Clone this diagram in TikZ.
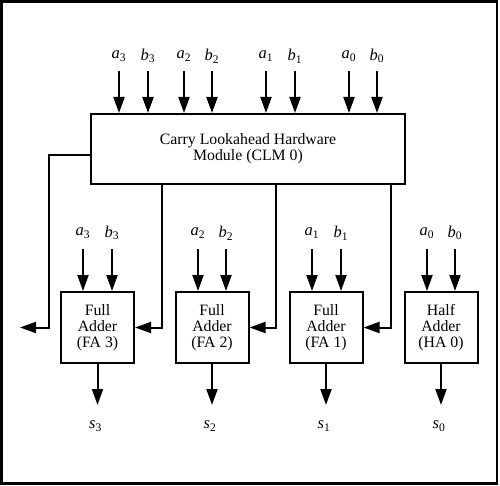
\documentclass[tikz,border=0pt]{standalone}
\usepackage{fontspec}
\setmainfont{Liberation Serif}
\usetikzlibrary{arrows.meta}
\newcommand{\lbl}[2]{\textit{#1}\textsubscript{#2}}
\begin{document}
\begin{tikzpicture}[x=1pt,y=-1pt,
  every node/.style={font=\fontsize{15.8}{15.7}\selectfont},
  blk/.style={draw,line width=2pt,inner sep=0pt,align=center},
  addbox/.style={blk,minimum width=73pt,minimum height=71pt},
  arr/.style={line width=2pt,-{Triangle[length=16pt,width=11pt]}},
  lab/.style={inner sep=0pt,font=\fontsize{16.5}{16.5}\selectfont}]
\useasboundingbox (0,0) rectangle (500,486);
\draw[line width=2.2pt] (1.5,1.5) rectangle (497,483.5);
% CLM
\node[blk,minimum width=314pt,minimum height=70pt] (clm) at (248,149)
  {Carry Lookahead Hardware\\Module (CLM 0)};
% adders
\node[addbox] (fa3) at (97.5,327.5) {Full\\Adder\\(FA 3)};
\node[addbox] (fa2) at (212,327.5) {Full\\Adder\\(FA 2)};
\node[addbox] (fa1) at (326,327.5) {Full\\Adder\\(FA 1)};
\node[addbox] (ha0) at (441,327.5) {Half\\Adder\\(HA 0)};
% top inputs
\foreach \n/\l/\s/\x in {ta3/a/3/119, tb3/b/3/148, ta2/a/2/184, tb2/b/2/212,
                        ta1/a/1/266, tb1/b/1/295, ta0/a/0/349, tb0/b/0/377}{
  \node[lab] (\n) at (\x,56) {\lbl{\l}{\s}};
  \coordinate (\n s) at (\x,71);
  \draw[arr] (\n s) -- (\n s |- clm.north);
}
% lower inputs
\foreach \n/\l/\s/\x/\b in {la3/a/3/83/fa3, lb3/b/3/112/fa3, la2/a/2/198/fa2, lb2/b/2/226/fa2,
                        la1/a/1/312/fa1, lb1/b/1/341/fa1, la0/a/0/427/ha0, lb0/b/0/455/ha0}{
  \node[lab] (\n) at (\x,233) {\lbl{\l}{\s}};
  \coordinate (\n s) at (\x,249);
  \draw[arr] (\n s) -- (\n s |- \b.north);
}
% outputs
\foreach \b/\s/\x in {fa3/3/97.5, fa2/2/212, fa1/1/326, ha0/0/441}{
  \coordinate (o\s) at (\x,405);
  \draw[arr] (\b.south) -- (o\s);
  \node[lab] (s\s) at (\x-2,426) {\lbl{s}{\s}};
}
% carries
\coordinate (c3) at (162,184);
\coordinate (c2) at (276,184);
\coordinate (c1) at (391,184);
\draw[arr] (c3) |- (fa3.east);
\draw[arr] (c2) |- (fa2.east);
\draw[arr] (c1) |- (fa1.east);
\coordinate (c4a) at (91,155);
\coordinate (c4b) at (49,155);
\coordinate (c4) at (20,327.5);
\draw[arr] (c4a) -- (c4b) |- (c4);
\end{tikzpicture}
\end{document}
